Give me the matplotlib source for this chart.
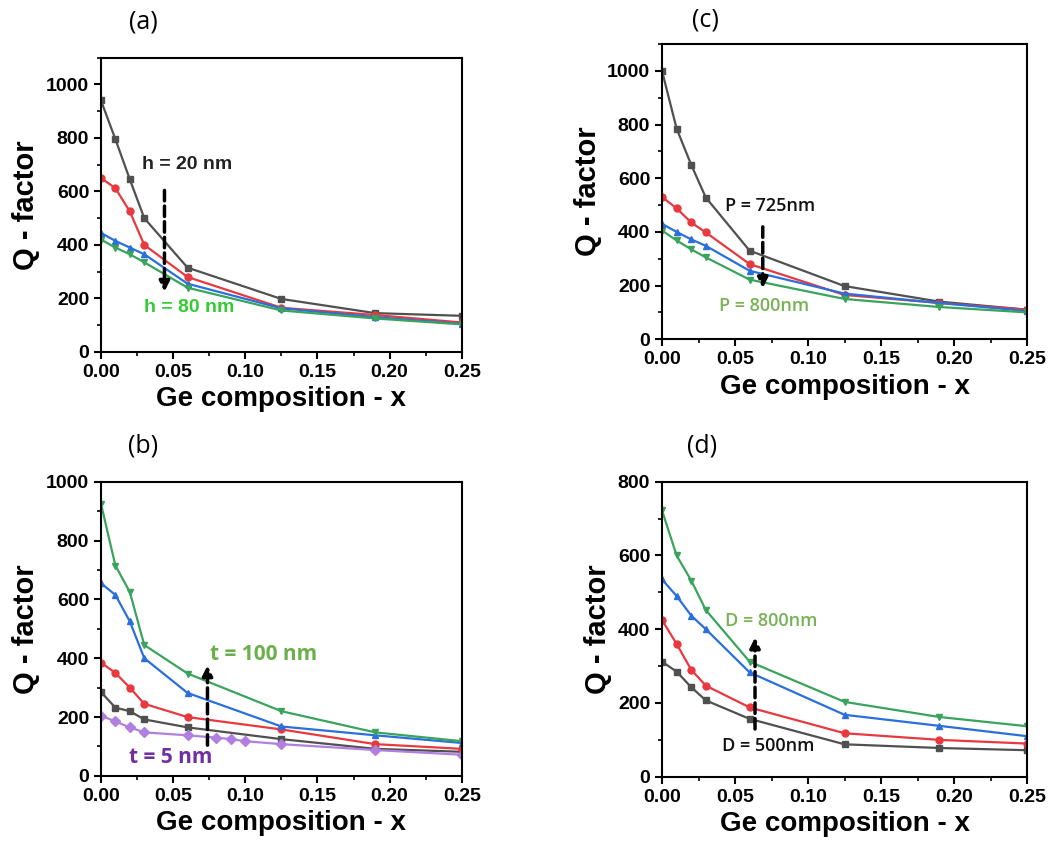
import matplotlib
matplotlib.use("Agg")
import matplotlib.pyplot as plt
from matplotlib.ticker import MultipleLocator, FormatStrFormatter

plt.rcParams['font.family'] = ['Liberation Sans', 'DejaVu Sans']

# Ge composition values
x = [0.0, 0.01, 0.02, 0.03, 0.06, 0.125, 0.19, 0.25]
x_fine = [0.0, 0.01, 0.02, 0.03, 0.06, 0.08, 0.09, 0.10, 0.125, 0.19, 0.25]

# (a) varying h
a_black = [940, 795, 645, 500, 315, 198, 145, 135]
a_red = [650, 612, 525, 400, 280, 165, 138, 110]
a_blue = [445, 415, 390, 365, 255, 163, 130, 105]
a_green = [420, 390, 365, 335, 240, 155, 125, 103]

# (b) varying t
b_black = [285, 232, 220, 192, 165, 125, 92, 82]
b_red = [385, 350, 300, 245, 200, 158, 108, 92]
b_blue = [655, 615, 525, 400, 282, 168, 138, 112]
b_green = [925, 715, 625, 445, 348, 220, 148, 118]
b_purple = [205, 185, 165, 148, 138, 130, 125, 118, 108, 88, 72]

# (c) varying P
c_black = [1000, 785, 650, 528, 330, 198, 140, 110]
c_red = [530, 488, 435, 398, 280, 165, 135, 110]
c_blue = [430, 400, 372, 348, 255, 170, 135, 105]
c_green = [405, 368, 335, 305, 222, 150, 120, 100]

# (d) varying D
d_black = [312, 285, 243, 207, 157, 88, 78, 72]
d_red = [425, 360, 290, 247, 188, 118, 100, 90]
d_blue = [535, 490, 437, 400, 283, 168, 138, 110]
d_green = [722, 600, 532, 452, 312, 203, 162, 137]

BLACK = '#505050'
RED = '#e8393f'
BLUE = '#2a6fdb'
GREEN = '#3aa35c'
PURPLE = '#b17fe0'


def style_axes(ax, ymax):
    ax.set_xlim(0, 0.25)
    ax.set_ylim(0, ymax)
    ax.xaxis.set_major_locator(MultipleLocator(0.05))
    ax.xaxis.set_minor_locator(MultipleLocator(0.025))
    ax.yaxis.set_minor_locator(MultipleLocator(100))
    ax.set_yticks(range(0, min(ymax, 1000) + 1, 200))
    ax.xaxis.set_major_formatter(FormatStrFormatter('%.2f'))
    ax.tick_params(which='major', direction='out', length=5, width=1.5,
                   labelsize=14, top=False, right=False)
    ax.tick_params(which='minor', direction='out', length=3, width=1.2)
    for lab in ax.get_xticklabels() + ax.get_yticklabels():
        lab.set_fontweight('bold')
    for s in ax.spines.values():
        s.set_linewidth(1.5)
    ax.set_xlabel('Ge composition - x', fontsize=20, fontweight='bold', labelpad=4)
    ax.set_ylabel('Q - factor', fontsize=21, fontweight='bold', labelpad=4)


def series(ax, xs, ys, color, marker):
    ax.plot(xs, ys, color=color, linewidth=1.6, marker=marker, markersize=5)


def arrow(ax, xa, y0, y1):
    ax.annotate('', xy=(xa, y1), xytext=(xa, y0),
                arrowprops=dict(arrowstyle='-|>', color='black', lw=2.5,
                                linestyle=(0, (3, 1.5)), mutation_scale=15))


fig = plt.figure(figsize=(10.55, 8.48), dpi=100)
ax_a = fig.add_axes([0.0957, 0.585, 0.342, 0.347])
ax_b = fig.add_axes([0.0957, 0.085, 0.342, 0.347])
ax_c = fig.add_axes([0.6275, 0.600, 0.346, 0.348])
ax_d = fig.add_axes([0.6275, 0.084, 0.346, 0.348])

# panel labels
fig.text(143 / 1055, 1 - 22 / 848, '(a)', ha='center', va='center',
         fontsize=18, family='Open Sans')
fig.text(143 / 1055, 1 - 446 / 848, '(b)', ha='center', va='center',
         fontsize=18, family='Open Sans')
fig.text(705 / 1055, 1 - 20 / 848, '(c)', ha='center', va='center',
         fontsize=18, family='Open Sans')
fig.text(702 / 1055, 1 - 446 / 848, '(d)', ha='center', va='center',
         fontsize=18, family='Open Sans')

# (a)
series(ax_a, x, a_black, BLACK, 's')
series(ax_a, x, a_red, RED, 'o')
series(ax_a, x, a_blue, BLUE, '^')
series(ax_a, x, a_green, GREEN, 'v')
style_axes(ax_a, 1100)
arrow(ax_a, 0.044, 614, 215)
ax_a.text(0.060, 700, 'h = 20 nm', ha='center', va='center', fontsize=14,
          fontweight='bold', color='#222222')
ax_a.text(0.061, 165, 'h = 80 nm', ha='center', va='center', fontsize=14,
          fontweight='bold', color='#33cc33')

# (b)
series(ax_b, x, b_black, BLACK, 's')
series(ax_b, x, b_red, RED, 'o')
series(ax_b, x, b_blue, BLUE, '^')
series(ax_b, x, b_green, GREEN, 'v')
series(ax_b, x_fine, b_purple, PURPLE, 'D')
style_axes(ax_b, 1000)
arrow(ax_b, 0.0738, 95, 385)
ax_b.text(0.113, 412, 't = 100 nm', ha='center', va='center', fontsize=15,
          fontweight='bold', color='#6ab04c', family='Open Sans')
ax_b.text(0.048, 61, 't = 5 nm', ha='center', va='center', fontsize=15,
          fontweight='bold', color='#7030a0', family='Open Sans')

# (c)
series(ax_c, x, c_black, BLACK, 's')
series(ax_c, x, c_red, RED, 'o')
series(ax_c, x, c_blue, BLUE, '^')
series(ax_c, x, c_green, GREEN, 'v')
style_axes(ax_c, 1100)
arrow(ax_c, 0.069, 429, 180)
ax_c.text(0.074, 496, 'P = 725nm', ha='center', va='center', fontsize=13,
          fontweight='semibold', color='#111111', family='Open Sans')
ax_c.text(0.070, 123, 'P = 800nm', ha='center', va='center', fontsize=13,
          fontweight='semibold', color='#77b254', family='Open Sans')

# (d)
series(ax_d, x, d_black, BLACK, 's')
series(ax_d, x, d_red, RED, 'o')
series(ax_d, x, d_blue, BLUE, '^')
series(ax_d, x, d_green, GREEN, 'v')
style_axes(ax_d, 800)
arrow(ax_d, 0.0637, 122, 385)
ax_d.text(0.075, 423, 'D = 800nm', ha='center', va='center', fontsize=13,
          fontweight='semibold', color='#77b254', family='Open Sans')
ax_d.text(0.073, 84, 'D = 500nm', ha='center', va='center', fontsize=13,
          fontweight='semibold', color='#111111', family='Open Sans')

fig.savefig('out.png', dpi=100)
